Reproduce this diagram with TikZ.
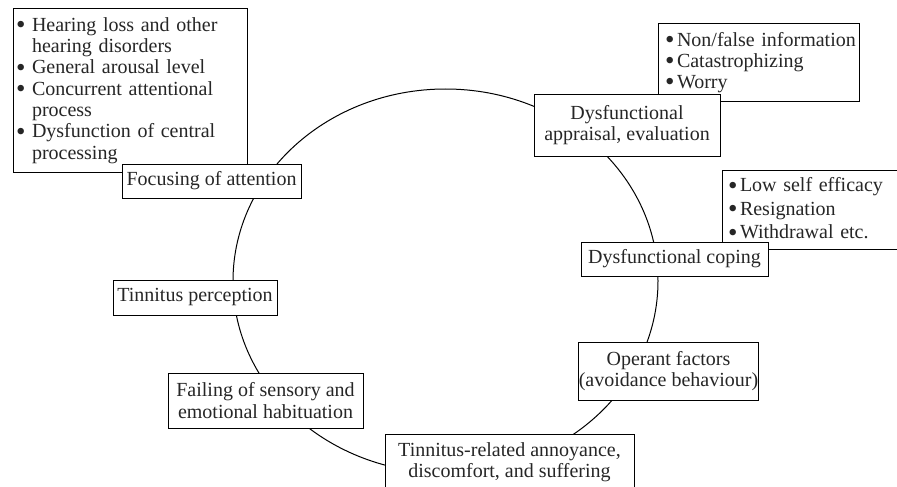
\documentclass[tikz,border=0pt]{standalone}
\usepackage{fontspec}
\setmainfont{Liberation Serif}
\newcommand\figfont{\fontsize{20}{21.3}\selectfont}
\newcommand\bigdot{\raisebox{-2.3pt}{\scalebox{1.35}{\textbullet}}}
\newcommand\bl[2]{\hspace*{#1}\makebox[#2][l]{\bigdot}}
\newcommand\bi[2]{\hspace*{#1}\hspace*{#2}}
\begin{document}
\begin{tikzpicture}[x=1pt,y=-1pt,
  box/.style={draw, line width=1pt, fill=white, inner sep=0pt, align=center, font=\figfont, text=black!85},
  listbox/.style={draw, line width=1pt, fill=white, inner sep=0pt, align=left, font=\figfont, text=black!85},
  cycleline/.style={line width=1pt}]
\useasboundingbox (0,0) rectangle (897,487);
\clip (0,0) rectangle (897,487);
% cycle
\draw[cycleline] (445.5,281) ellipse [x radius=212.5pt, y radius=192pt];
% side lists
\node[listbox, minimum width=234pt, minimum height=163pt, text width=232pt] (hear) at (130,90.5)
  {\bl{2pt}{16pt}Hearing loss and other\\ \bi{2pt}{16pt}hearing disorders\\ \bl{2pt}{16pt}General arousal level\\ \bl{2pt}{16pt}Concurrent attentional\\ \bi{2pt}{16pt}process\\ \bl{2pt}{16pt}Dysfunction of central\\ \bi{2pt}{16pt}processing};
\node[listbox, minimum width=201pt, minimum height=77pt, text width=199pt] (info) at (758.5,62.5)
  {\bl{6pt}{12pt}Non/false information\\ \bl{6pt}{12pt}Catastrophizing\\ \bl{6pt}{12pt}Worry};
\node[listbox, minimum width=188pt, minimum height=79pt, text width=186pt, font=\fontsize{20}{23.5}\selectfont] (effic) at (816,209.5)
  {\bl{5pt}{12pt}Low self efficacy\\ \bl{5pt}{12pt}Resignation\\ \bl{5pt}{12pt}Withdrawal etc.};
% cycle stages
\node[box, minimum width=179pt, minimum height=34pt] (focus) at (211.5,181) {Focusing of attention};
\node[box, minimum width=186pt, minimum height=62pt] (apprais) at (627,125) {Dysfunctional\\appraisal, evaluation};
\node[box, minimum width=187pt, minimum height=34pt] (coping) at (674.5,259) {Dysfunctional coping};
\node[box, minimum width=175pt, minimum height=58pt] (operant) at (668.5,371) {Operant factors\\(avoidance behaviour)};
\node[box, minimum width=249pt, minimum height=57pt] (annoy) at (509.5,462.5) {Tinnitus-related annoyance,\\discomfort, and suffering};
\node[box, minimum width=195pt, minimum height=55pt] (failing) at (265.5,400.5) {Failing of sensory and\\emotional habituation};
\node[box, minimum width=164pt, minimum height=35pt] (percep) at (195,297.5) {Tinnitus perception};
\end{tikzpicture}
\end{document}
